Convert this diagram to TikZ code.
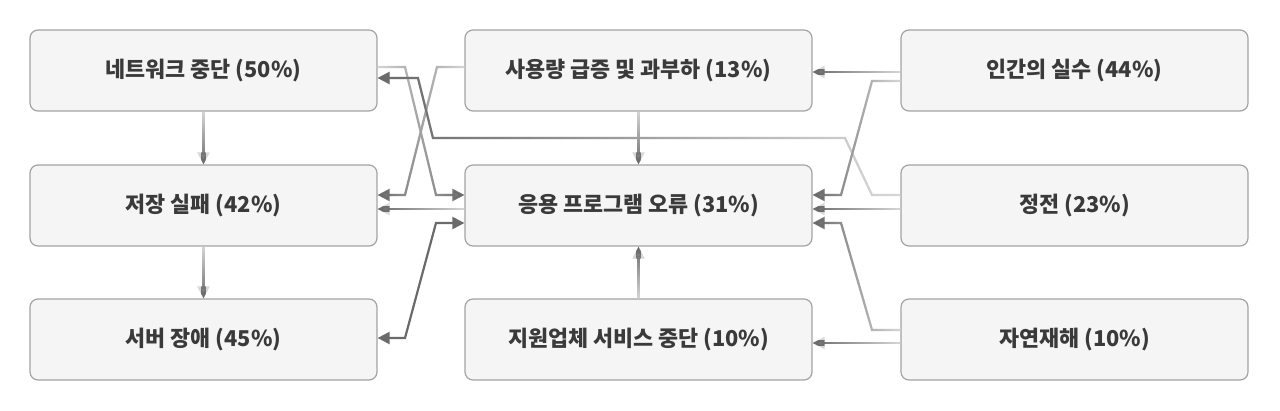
\documentclass[tikz,border=0pt]{standalone}
\usepackage{fontspec}
\setmainfont{Noto Sans CJK KR}
\usetikzlibrary{arrows.meta,fadings}

\definecolor{boxfill}{HTML}{F5F5F5}
\definecolor{boxline}{HTML}{A3A3A3}
\definecolor{boxtext}{HTML}{3A3A3A}
\definecolor{edgelight}{HTML}{D8D8D8}
\definecolor{edgedark}{HTML}{6A6A6A}

\tikzfading[name=towest, left color=transparent!0, right color=transparent!100]
\tikzfading[name=toeast, left color=transparent!100, right color=transparent!0]
\tikzfading[name=tosouth, top color=transparent!100, bottom color=transparent!0]
\tikzfading[name=tonorth, top color=transparent!0, bottom color=transparent!100]

\begin{document}
\begin{tikzpicture}[x=1pt, y=-1pt,
    box/.style={draw=boxline, fill=boxfill, line width=1.2pt, rounded corners=8pt,
        minimum width=347pt, minimum height=81pt, text=boxtext,
        font=\fontsize{21.8}{26}\selectfont\bfseries},
    link/.style={draw=edgelight, line width=2.2pt, -{Triangle[length=12pt,width=12pt]},
        postaction={draw=edgedark, path fading=#1}},
    duplex/.style={draw=edgedark, line width=2.2pt,
        {Triangle[length=12pt,width=12pt]}-{Triangle[length=12pt,width=12pt]}}]

    \useasboundingbox (0,0) rectangle (1280,410);

    % left column
    \node[box] (net) at (203.5,70.5) {네트워크 중단 (50\%)};
    \node[box] (store) at (203.5,205.5) {저장 실패 (42\%)};
    \node[box] (server) at (203.5,339.5) {서버 장애 (45\%)};

    % middle column
    \node[box] (load) at (638.5,70.5) {사용량 급증 및 과부하 (13\%)};
    \node[box] (app) at (638.5,205.5) {응용 프로그램 오류 (31\%)};
    \node[box] (vendor) at (638.5,339.5) {지원업체 서비스 중단 (10\%)};

    % right column
    \node[box] (human) at (1074.5,70.5) {인간의 실수 (44\%)};
    \node[box] (power) at (1074.5,205.5) {정전 (23\%)};
    \node[box] (disaster) at (1074.5,339.5) {자연재해 (10\%)};

    % vertical links
    \draw[link=tosouth] (net.south) -- (store.north);
    \draw[link=tosouth] (store.south) -- (server.north);
    \draw[link=tosouth] (load.south) -- (app.north);
    \draw[link=tonorth] (vendor.north) -- (app.south);

    % links between left and middle
    \draw[link=toeast] (net.east |- 0,67) -- (405,67) -- (436,195) -- (app.west |- 0,195);
    \draw[link=towest] (load.west |- 0,67) -- (437,67) -- (405,195) -- (store.east |- 0,195);
    \draw[link=towest] (app.west |- 0,209) -- (store.east |- 0,209);
    \draw[duplex] (server.east |- 0,338) -- (405,338) -- (436,223) -- (app.west |- 0,223);

    % links from the right
    \draw[link=towest] (power.west |- 0,195) -- (872,195) -- (845,138) -- (433,138) -- (418,78) -- (net.east |- 0,78);
    \draw[link=towest] (human.west |- 0,72) -- (load.east |- 0,72);
    \draw[link=towest] (human.west |- 0,81) -- (872,81) -- (841,195) -- (app.east |- 0,195);
    \draw[link=towest] (power.west |- 0,209) -- (app.east |- 0,209);
    \draw[link=towest] (disaster.west |- 0,330) -- (872,330) -- (841,223) -- (app.east |- 0,223);
    \draw[link=towest] (disaster.west |- 0,343) -- (vendor.east |- 0,343);

\end{tikzpicture}
\end{document}
